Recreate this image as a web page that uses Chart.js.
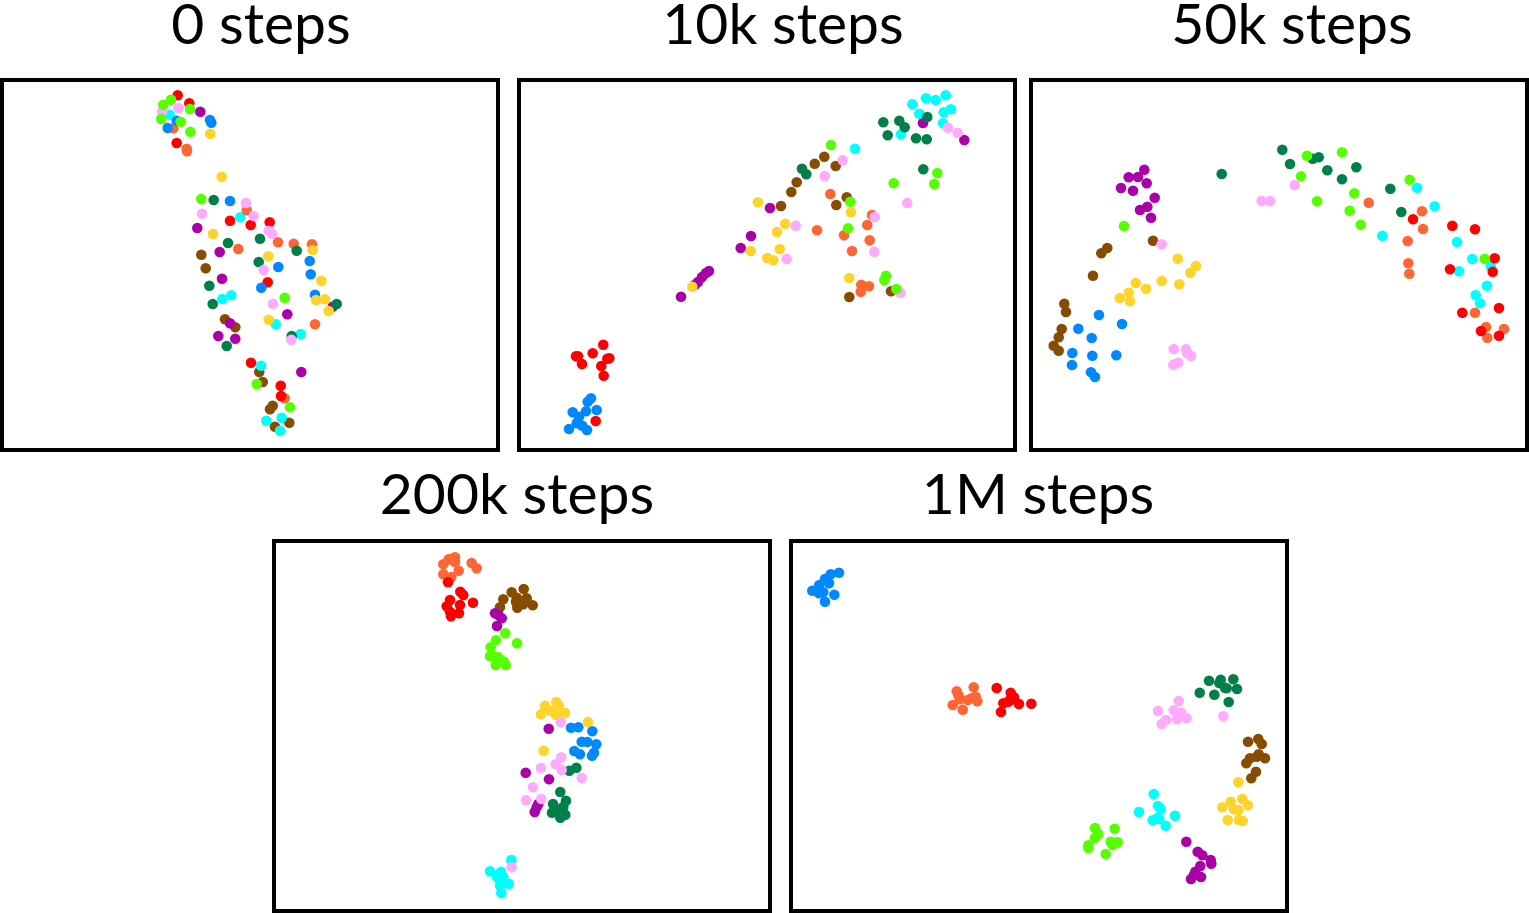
<!DOCTYPE html>
<html>
<head>
<meta charset="utf-8">
<script src="https://cdn.jsdelivr.net/npm/chart.js@4"></script>
<style>
  html, body { margin: 0; padding: 0; background: #fff; overflow: hidden; }
  .title { position: absolute; transform: translateX(-50%); font: 57px Lato, sans-serif; line-height: 60px; color: #000; white-space: nowrap; }
  .panel { position: absolute; box-sizing: border-box; border: 4px solid #000; background: #fff; }
  .panel canvas { display: block; }
</style>
</head>
<body>
<script>
// class order in every list below
const classColors = ['#55ff00', '#ffaaff', '#ffd42a', '#008048', '#0088ff', '#ff0000', '#ff6633', '#00ffff', '#aa00aa', '#884c00']
const panelTitles = ['0 steps', '10k steps', '50k steps', '200k steps', '1M steps']

const steps0 = [
  [[171,99.7],[163.3,104.7],[190,109],[161.3,119],[180.7,121.7],[190.3,131.7],[201.3,199],[284.7,297.7],[256.7,384],[290,407.3]],
  [[162,111.7],[178.3,108.3],[202,213.7],[246,203],[253.7,216],[268.7,230.7],[272,233.7],[263.7,270],[273,303.7],[291.3,339.7]],
  [[210.3,133.7],[221.7,176.7],[213,234],[268.3,256.3],[312.7,250],[321.3,280.7],[316,300],[325,299.3],[328.7,311],[268.7,319.7]],
  [[213.7,200],[260,238.7],[228,243],[296.7,250.7],[258.7,262],[209.3,285.7],[212.7,304],[226.7,346],[336.7,304],[291.7,336]],
  [[210,120],[211.3,122.7],[176.7,120.7],[167.7,128],[230,201],[309.7,261],[278.3,267],[310.7,274.3],[261.3,287.7],[315,294.7]],
  [[177.7,95.3],[189.3,103.3],[176.7,143],[230,220.7],[250.7,225],[269.7,222.3],[267.7,282.3],[251,362.7],[280.7,385.7],[281,396]],
  [[173.3,128.3],[186.7,148.7],[187,151.3],[246.7,210.3],[238.3,249],[278,242.3],[293.7,243.7],[312,244.3],[315,324.3],[284.7,398.3]],
  [[169.7,114.7],[240.3,217.3],[222.3,299],[231.3,295.3],[275.7,324.3],[300.7,334],[261,365.7],[266.3,420.7],[281.7,417.7],[280,430.7]],
  [[200.3,111.7],[197.3,228],[219.7,252],[222,278.7],[230,323.3],[218.3,336],[235.3,338.7],[287.3,314.3],[332.7,306.7],[301.3,372]],
  [[201.3,254.7],[205.7,268.3],[225,319.3],[235.3,327.3],[259.3,372],[262.7,382],[272.7,405.7],[270,409.3],[275,426.7],[289.3,422.7]]
]
const steps10k = [
  [[831,145],[937.3,173],[934.3,184],[893.7,183.3],[850.3,201.7],[848,228.3],[886,275.7],[884.3,280],[896.3,289]],
  [[948,127.7],[957.7,132.7],[842.7,160.3],[824.7,176],[907.3,203],[874.7,217],[795.7,225.7],[874.3,251.7],[786.7,259],[900.3,292.7]],
  [[758,202.3],[851,212.3],[785.3,223.7],[777,232],[750.7,251],[779.7,249],[767.3,258],[773.3,260.3],[849.3,278],[692.3,286.7]],
  [[883.3,122.3],[899.3,120.7],[904.7,127.3],[927.3,117],[887.7,135.3],[916,138.3],[926.7,139.3],[923.3,169.3],[802,168.7],[806.3,174.3]],
  [[591,398.3],[587.7,401.7],[596.7,410],[586,411.3],[572.7,412.3],[579,416.7],[576.7,423.3],[569,429],[582.3,425.7],[587,430]],
  [[603.3,344.7],[592.7,353.3],[576,356.3],[578,356.3],[582,364],[609.3,358.3],[607.3,358.7],[601.3,366],[603.7,375.7],[595.7,421]],
  [[830.3,194],[872,215],[867.3,225],[817,230.3],[844,235.3],[869.7,240.3],[852,251],[861.3,284.7],[869,286.3],[860.7,291.7]],
  [[912.3,104.3],[926,98.3],[935.7,100],[945.7,95.3],[951,109.3],[943.7,112.3],[919.3,113.7],[943,123.3],[901,134.3],[855,148.7]],
  [[923,123],[964.3,140],[770,208],[751,236],[740.7,248],[681,296.7],[695,284.7],[698,282],[702,277],[706,273],[709,271]],
  [[824.3,156.7],[814.7,163.7],[835.7,166],[796.7,182.3],[791.3,192],[781,206],[846.7,197.3],[836.3,205],[891,291.3],[849.3,297]]
]
const steps50k = [
  [[1124,226],[1307,155.7],[1342,152.3],[1301,176.3],[1317,201.3],[1354.3,193.3],[1349.7,210.7],[1360.7,224.7],[1409.7,179.7],[1484.7,258.7]],
  [[1294.7,185],[1261.7,200.7],[1270,201],[1161.7,244.3],[1173.7,349],[1186,349.3],[1187.3,353],[1191,356],[1178,362.7],[1173.3,364.7]],
  [[1177.7,258.7],[1196,266],[1190.3,272.7],[1161.7,281],[1179.3,284.3],[1135.7,283],[1146,288.7],[1128.7,292.7],[1119.7,298],[1130,301.3]],
  [[1221.7,174],[1282.3,149.7],[1290,164],[1312.7,158.7],[1318.7,157.3],[1327.3,170.3],[1356.3,167.3],[1342,179.3],[1390.3,188.7],[1401.3,212]],
  [[1099,315],[1122,324],[1078.3,328.7],[1091.7,338],[1072.3,353],[1092.3,355.7],[1116.3,355.3],[1072,365],[1091,372.3],[1095,377]],
  [[1413,219.3],[1452.3,225.7],[1475,229.3],[1494.7,258.3],[1492.7,271.7],[1450,269.3],[1499,308],[1462.3,312.7],[1481,331],[1499,335.7]],
  [[1368.7,202.7],[1422,211.3],[1423,229],[1407.7,241],[1408.3,263.3],[1409.3,273.7],[1475,312.7],[1486,327],[1504,329],[1487.3,337.7]],
  [[1417,187.7],[1434.7,206.3],[1382.3,235.7],[1457,242],[1472.3,259],[1490.7,266],[1459,271.3],[1487,285.7],[1475.7,295],[1480,303.3]],
  [[1144.3,169.7],[1128.7,177.3],[1138,177],[1146.7,183.3],[1121,188],[1133,190.7],[1154.7,197.7],[1147.3,206.7],[1140,210],[1151,217.7]],
  [[1153,240.7],[1107.3,248],[1101.3,253.3],[1093,275.7],[1064.3,303.7],[1066,312],[1061.7,329],[1058.7,337.3],[1053.7,345.7],[1058.7,350.7]]
]
const steps200k = [
  [[505.3,633.3],[496,640.3],[517,643.3],[490.7,647.3],[490,656.3],[498.3,657.3],[495.7,665],[505.7,665],[504,661.7],[495,656.7]],
  [[560.7,722.3],[561.3,757.3],[555.7,764.3],[561.7,770],[541,768],[581.7,778],[533,787.3],[526,800.3],[541.3,799],[511.7,867.3]],
  [[556.3,702],[558.7,705.3],[545,705.7],[550.7,711],[541,714.3],[565,713],[556,715],[588,722],[543.7,750.7],[560,713.3]],
  [[576.3,767.7],[569.3,770.7],[560.3,792],[566,800.7],[553,804],[563.3,806.7],[556.7,809.3],[552,812.7],[565.3,814.7],[560.3,817.7]],
  [[571,727.7],[578.3,727.3],[592.3,731.3],[581.7,741.7],[587.3,742],[596.3,744.3],[574.3,751],[580,754.3],[594,752.7],[592,755.7]],
  [[448,582.3],[460.3,591.7],[463.3,595],[450,600],[473,602.7],[446.7,606.3],[460,605],[450,611.7],[459,613.3],[451,616.3]],
  [[455,557.3],[448.7,559.3],[451,559],[443.3,564.3],[471.7,563],[476.7,568.3],[458.7,570.7],[443.3,574.3],[451.3,577],[455,562]],
  [[511.3,860],[490,871.3],[501,871.7],[503.3,876.7],[496.7,876.7],[500,880.7],[508.7,883.7],[500,885.7],[501.3,893]],
  [[495,613.3],[498.3,615],[501.7,618.3],[497,626],[548.7,728.7],[525.7,772.7],[549,779.3],[538.3,804],[536.7,807.3],[534.7,812]],
  [[511.7,592.3],[523.7,589],[503.3,599.3],[516.7,597.7],[526.7,598.3],[500,607.3],[517.3,607.7],[523.3,604.3],[532.7,605.3],[516,601.7]]
]
const steps1M = [
  [[1095,828],[1114.7,828.7],[1098.3,834],[1095,838],[1117.7,842.3],[1110.7,841.7],[1112.7,845],[1088.3,845.3],[1088.3,848],[1105.7,854]],
  [[1178.7,701],[1158,711],[1173.7,710.3],[1181.3,712.7],[1186.7,718.3],[1177,719.3],[1166,720],[1161.7,724],[1223.3,716.3],[1179.3,715]],
  [[1238.3,782.3],[1242.3,799],[1230.7,801.7],[1248,805.3],[1222.3,807.3],[1234,809.3],[1238.3,810],[1227.7,820],[1239,820],[1242.7,821]],
  [[1209,680.7],[1220.7,679.7],[1233.3,679.3],[1219.3,683],[1225,687.7],[1237,689],[1199.7,692.7],[1214.3,694.7],[1228.7,702],[1226.7,688.3]],
  [[839,572.7],[830.7,574.3],[825,579],[829,583.3],[819.3,585],[812.3,590.7],[823.3,592.3],[819,593.3],[834.3,594.7],[825,601.7]],
  [[996.7,688],[1010.7,692.7],[1014,697.3],[1008.3,701.7],[1003.3,703.3],[1019,704],[1031.3,703.7],[1001,712],[1010,700]],
  [[956.7,691.3],[973.7,687.3],[975.7,696.7],[967.7,700],[977.3,701.3],[960,699.3],[952.7,705],[962.7,709.7],[971.7,698.3],[958.3,695]],
  [[1153.7,794],[1158,806],[1160.7,809.3],[1139,812],[1175,815.7],[1157.3,818],[1152.7,820.3],[1165.7,825.7],[1159.3,819]],
  [[1186.3,841.7],[1197.7,851.7],[1202.3,855.3],[1210.7,860],[1211.3,863.7],[1200.3,866],[1195.3,871.7],[1201,877],[1191,879],[1194,875]],
  [[1248,741.7],[1258.3,739],[1261.7,744],[1258.7,754.3],[1265,758.3],[1250,758.3],[1246.3,763.3],[1256,771.7],[1251.3,778.3],[1256.7,756.7]]
]

const panelData = [steps0, steps10k, steps50k, steps200k, steps1M]

// outer box of each panel on the page, and where its title is centred
const panelBoxes = [
  {left: 0, top: 78, width: 500, height: 374, titleX: 261, titleY: -8},
  {left: 517, top: 78, width: 500, height: 374, titleX: 783, titleY: -8},
  {left: 1029, top: 78, width: 500, height: 374, titleX: 1292, titleY: -8},
  {left: 272, top: 539, width: 500, height: 374, titleX: 517, titleY: 462},
  {left: 789, top: 539, width: 500, height: 374, titleX: 1038, titleY: 462}
]
const borderWidth = 4

panelBoxes.forEach((box, i) => {
  const title = document.createElement('div')
  title.className = 'title'
  title.textContent = panelTitles[i]
  title.style.left = box.titleX + 'px'
  title.style.top = box.titleY + 'px'
  document.body.appendChild(title)

  const panel = document.createElement('div')
  panel.className = 'panel'
  panel.style.left = box.left + 'px'
  panel.style.top = box.top + 'px'
  panel.style.width = box.width + 'px'
  panel.style.height = box.height + 'px'
  const canvas = document.createElement('canvas')
  const w = box.width - 2 * borderWidth, h = box.height - 2 * borderWidth
  canvas.style.width = w + 'px'
  canvas.style.height = h + 'px'
  canvas.width = w
  canvas.height = h
  panel.appendChild(canvas)
  document.body.appendChild(panel)

  new Chart(canvas, {
    type: 'scatter',
    data: {
      datasets: panelData[i].map((pts, c) => ({
        data: pts.map(p => ({x: p[0], y: p[1]})),
        backgroundColor: classColors[c],
        borderWidth: 0,
        pointRadius: 5.3,
        pointHoverRadius: 5.3
      }))
    },
    options: {
      responsive: false,
      animation: false,
      devicePixelRatio: 1,
      layout: {padding: 0, autoPadding: false},
      plugins: {legend: {display: false}, tooltip: {enabled: false}},
      scales: {
        x: {display: false, min: box.left + borderWidth, max: box.left + box.width - borderWidth},
        y: {display: false, reverse: true, min: box.top + borderWidth, max: box.top + box.height - borderWidth}
      }
    }
  })
})
</script>
</body>
</html>
